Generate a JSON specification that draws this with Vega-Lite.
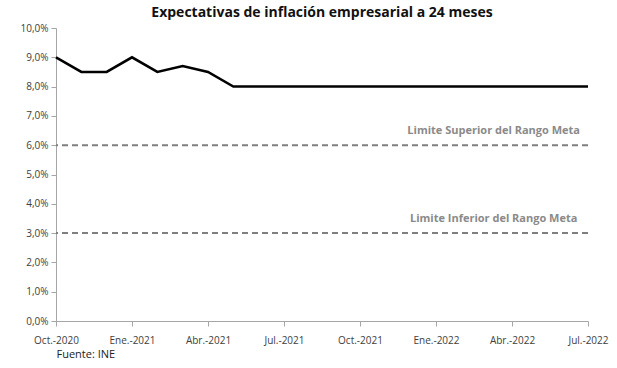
{
  "$schema": "https://vega.github.io/schema/vega-lite/v6.json",
  "width": 532,
  "height": 293,
  "autosize": {"type": "none"},
  "padding": {"left": 56, "top": 28, "right": 29, "bottom": 47},
  "background": "white",
  "title": {
    "text": "Expectativas de inflación empresarial a 24 meses",
    "font": "Open Sans",
    "fontSize": 14,
    "fontWeight": "bold",
    "color": "#111111",
    "anchor": "middle",
    "offset": 3
  },
  "config": {
    "view": {"stroke": null},
    "font": "Open Sans"
  },
  "data": {
    "values": [
      {"mes": "Oct.-2020", "valor": 9.0},
      {"mes": "Nov.-2020", "valor": 8.5},
      {"mes": "Dic.-2020", "valor": 8.5},
      {"mes": "Ene.-2021", "valor": 9.0},
      {"mes": "Feb.-2021", "valor": 8.5},
      {"mes": "Mar.-2021", "valor": 8.7},
      {"mes": "Abr.-2021", "valor": 8.5},
      {"mes": "May.-2021", "valor": 8.0},
      {"mes": "Jun.-2021", "valor": 8.0},
      {"mes": "Jul.-2021", "valor": 8.0},
      {"mes": "Ago.-2021", "valor": 8.0},
      {"mes": "Sep.-2021", "valor": 8.0},
      {"mes": "Oct.-2021", "valor": 8.0},
      {"mes": "Nov.-2021", "valor": 8.0},
      {"mes": "Dic.-2021", "valor": 8.0},
      {"mes": "Ene.-2022", "valor": 8.0},
      {"mes": "Feb.-2022", "valor": 8.0},
      {"mes": "Mar.-2022", "valor": 8.0},
      {"mes": "Abr.-2022", "valor": 8.0},
      {"mes": "May.-2022", "valor": 8.0},
      {"mes": "Jun.-2022", "valor": 8.0},
      {"mes": "Jul.-2022", "valor": 8.0}
    ]
  },
  "encoding": {
    "y": {
      "field": "valor",
      "type": "quantitative",
      "scale": {"domain": [0, 10], "nice": false},
      "axis": {
        "values": [0, 1, 2, 3, 4, 5, 6, 7, 8, 9, 10],
        "labelExpr": "replace(format(datum.value, '.1f'), '.', ',') + '%'",
        "labelFontSize": 10,
        "labelColor": "#404040",
        "labelOverlap": false,
        "labelPadding": 3,
        "domainColor": "#a6a6a6",
        "tickColor": "#a6a6a6",
        "tickSize": 5,
        "grid": false,
        "title": null
      }
    }
  },
  "layer": [
    {
      "mark": {"type": "line", "color": "#000000", "strokeWidth": 2.5},
      "encoding": {
        "x": {
          "field": "mes",
          "type": "ordinal",
          "sort": null,
          "scale": {"type": "point", "padding": 0},
          "axis": {
            "values": ["Oct.-2020", "Ene.-2021", "Abr.-2021", "Jul.-2021", "Oct.-2021", "Ene.-2022", "Abr.-2022", "Jul.-2022"],
            "labelAngle": 0,
            "labelFontSize": 10,
            "labelColor": "#404040",
            "labelPadding": 9,
            "labelOverlap": false,
            "domainColor": "#a6a6a6",
            "tickColor": "#a6a6a6",
            "tickSize": 5,
            "grid": false,
            "title": "Fuente: INE",
            "titleAnchor": "start",
            "titleAlign": "left",
            "titleFontSize": 11,
            "titleFontWeight": "normal",
            "titleColor": "#222222",
            "titlePadding": 3
          }
        }
      }
    },
    {
      "data": {
        "values": [
          {"valor": 6, "etiqueta": "Limite Superior del Rango Meta", "mes": "Mar.-2022"},
          {"valor": 3, "etiqueta": "Limite Inferior del Rango Meta", "mes": "Mar.-2022"}
        ]
      },
      "mark": {"type": "rule", "color": "#7f7f7f", "strokeWidth": 2, "strokeDash": [6, 4]},
      "encoding": {}
    },
    {
      "data": {
        "values": [
          {"valor": 6, "etiqueta": "Limite Superior del Rango Meta", "mes": "Mar.-2022"},
          {"valor": 3, "etiqueta": "Limite Inferior del Rango Meta", "mes": "Mar.-2022"}
        ]
      },
      "mark": {"type": "text", "color": "#8a8a8a", "fontSize": 11, "fontWeight": "bold", "baseline": "bottom", "align": "center", "dy": -9, "dx": 7},
      "encoding": {
        "x": {"field": "mes", "type": "ordinal", "sort": null},
        "text": {"field": "etiqueta"}
      }
    }
  ]
}
